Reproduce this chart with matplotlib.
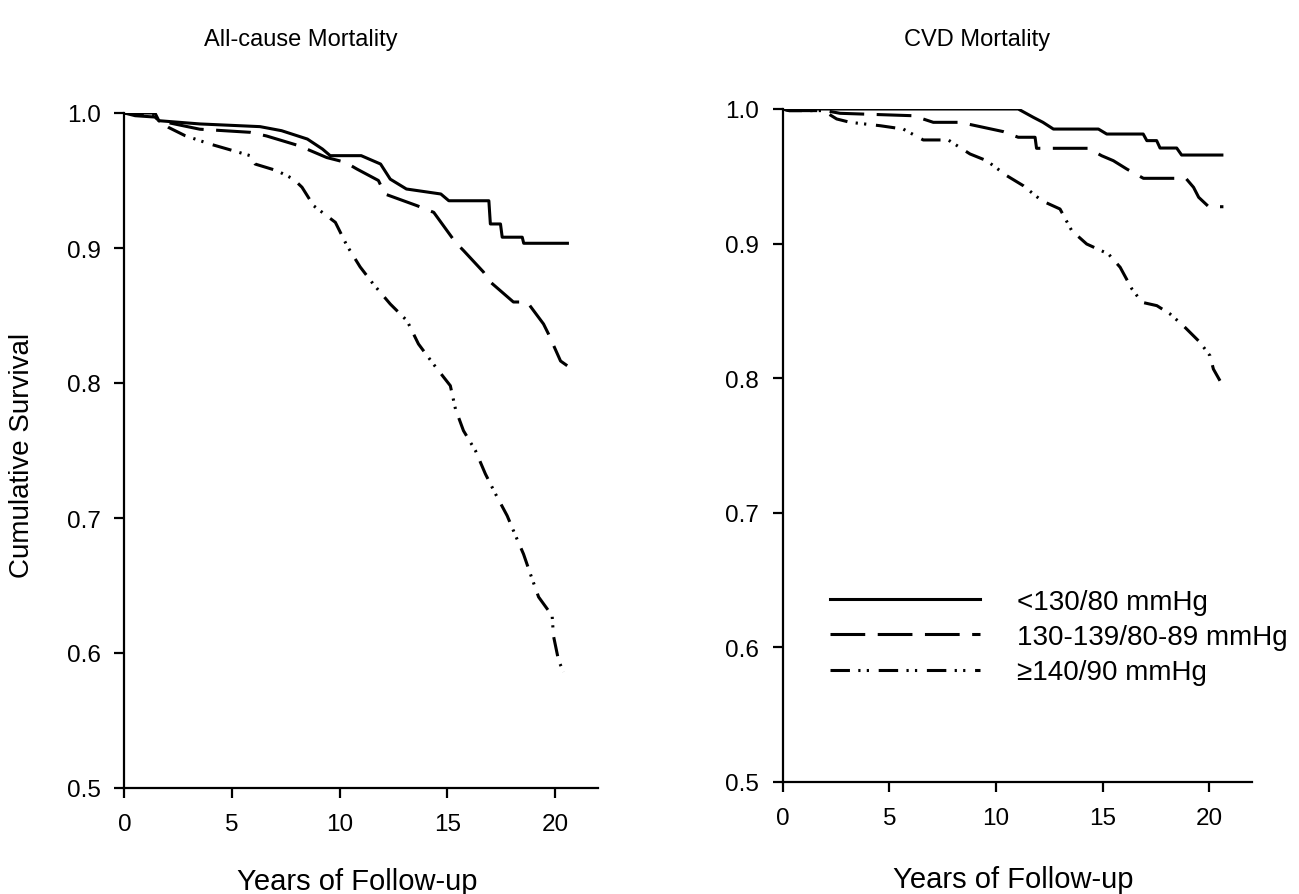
import matplotlib
matplotlib.use("Agg")
import matplotlib.pyplot as plt
from matplotlib.lines import Line2D

plt.rcParams['font.family'] = ['Liberation Sans', 'DejaVu Sans']
plt.rcParams['lines.scale_dashes'] = False

# ---- data (years, cumulative survival) ----
# All-cause mortality
all_t_low = [0, 1.42, 1.6, 3.5, 6.3, 7.3, 8.5, 9.2, 9.56, 11.0, 11.9, 12.35, 13.1, 14.7, 15.07,
             16.93, 17.0, 17.47, 17.55, 18.48, 18.55, 20.65]
all_s_low = [1.0, 1.0, 0.9943, 0.9919, 0.9899, 0.9869, 0.9807, 0.9733, 0.9684, 0.9684, 0.9622, 0.951,
             0.9437, 0.94, 0.935, 0.935, 0.9178, 0.9178, 0.908, 0.908, 0.9035, 0.9035]

all_t_mid = [0, 0.5, 1.42, 1.6, 3.5, 5.84, 6.6, 8.1, 9.4, 10.26, 10.8, 11.8, 12.1, 13.6, 14.37, 15.38,
             15.76, 16.68, 17.0, 18.07, 18.71, 19.47, 19.7, 20.26, 20.57]
all_s_mid = [1.0, 0.998, 0.997, 0.9943, 0.988, 0.9857, 0.983, 0.9758, 0.967, 0.9635, 0.9585, 0.95,
             0.94, 0.9313, 0.9264, 0.9042, 0.898, 0.8822, 0.8748, 0.86, 0.86, 0.8437, 0.8363,
             0.8163, 0.8128]

all_t_high = [0, 1.42, 1.6, 2.04, 2.82, 3.98, 5.07, 5.84, 6.07, 7.08, 7.86, 8.25, 8.79, 9.8, 10.34,
              10.95, 11.56, 12.35, 13.13, 13.66, 14.35, 15.14, 15.38, 15.75, 16.31, 16.77, 17.24,
              17.78, 18.17, 18.54, 18.86, 19.24, 19.87, 19.93, 20.17, 20.4]
all_s_high = [1.0, 0.998, 0.9943, 0.9894, 0.9832, 0.977, 0.972, 0.9684, 0.9622, 0.9573, 0.951, 0.945,
              0.9313, 0.919, 0.9017, 0.886, 0.8733, 0.8585, 0.8461, 0.8289, 0.8141, 0.798, 0.7807,
              0.7647, 0.7498, 0.7326, 0.7178, 0.7017, 0.6869, 0.6733, 0.6585, 0.6415, 0.6276,
              0.6128, 0.5943, 0.586]

# CVD mortality
cvd_t_low = [0, 11.04, 11.75, 12.2, 12.69, 14.8, 15.19, 16.9, 17.07, 17.53, 17.69, 18.47, 18.7, 20.66]
cvd_s_low = [1.0, 1.0, 0.9938, 0.9901, 0.9851, 0.9851, 0.9814, 0.9814, 0.9765, 0.9765, 0.971, 0.971,
             0.9658, 0.9658]

cvd_t_mid = [0, 0.3, 2.0, 2.69, 6.12, 7.06, 8.31, 9.4, 10.34, 11.04, 11.83, 11.9, 14.33, 14.95, 15.5,
             16.13, 16.91, 18.9, 19.26, 19.5, 19.97, 20.66]
cvd_s_mid = [1.0, 0.9988, 0.9988, 0.9968, 0.995, 0.9901, 0.9901, 0.9864, 0.9832, 0.979, 0.979, 0.9708,
             0.9708, 0.9653, 0.9616, 0.9554, 0.9485, 0.9485, 0.9418, 0.9344, 0.9274, 0.9274]

cvd_t_high = [0, 0.3, 1.9, 2.53, 3.16, 4.56, 5.65, 6.59, 7.76, 8.78, 9.56, 10.5, 11.28, 12.14, 13.0,
              13.55, 14.25, 15.27, 15.82, 16.37, 16.84, 17.54, 18.16, 18.78, 19.56, 20.03, 20.19, 20.5]
cvd_s_high = [1.0, 0.9988, 0.9988, 0.9926, 0.9901, 0.9876, 0.9851, 0.977, 0.977, 0.9666, 0.9616, 0.9505,
              0.943, 0.9319, 0.9257, 0.9096, 0.8997, 0.8923, 0.8824, 0.8663, 0.8564, 0.8539, 0.8477,
              0.839, 0.8267, 0.8167, 0.8068, 0.7981]

group_labels = ['<130/80 mmHg', '130-139/80-89 mmHg', '\u2265140/90 mmHg']
panel_titles = ['All-cause Mortality', 'CVD Mortality']
x_ticks = [0, 5, 10, 15, 20]
y_ticks = [0.5, 0.6, 0.7, 0.8, 0.9, 1.0]

styles = ['-', (0, (25, 9)), (0, (14, 6, 1.6, 4.5, 1.6, 7))]

W, H = 1299, 895
fig = plt.figure(figsize=(W / 100, H / 100), dpi=100)

# axes boxes in pixels: left, right, top, bottom
boxes = [(124.4, 598, 114, 789), (782.7, 1252, 110, 783)]
series = [
    [(all_t_low, all_s_low), (all_t_mid, all_s_mid), (all_t_high, all_s_high)],
    [(cvd_t_low, cvd_s_low), (cvd_t_mid, cvd_s_mid), (cvd_t_high, cvd_s_high)],
]

axes = []
for (l, r, t, b), curves in zip(boxes, series):
    ax = fig.add_axes([l / W, 1 - b / H, (r - l) / W, (b - t) / H])
    for (xs, ys), ls, lab in zip(curves, styles, group_labels):
        ax.plot(xs, ys, color='black', lw=2.2, linestyle=ls, label=lab,
                solid_capstyle='butt', dash_capstyle='butt')
    ax.set_xlim(0, 22)
    ax.set_ylim(0.5, 1.0)
    ax.set_xticks(x_ticks)
    ax.set_yticks(y_ticks)
    ax.set_yticklabels(['%.1f' % v for v in y_ticks])
    for s in ['top', 'right']:
        ax.spines[s].set_visible(False)
    for s in ['left', 'bottom']:
        ax.spines[s].set_linewidth(1.6)
    ax.tick_params(direction='out', length=7, width=1.6, labelsize=17.5)
    ax.tick_params(axis='y', pad=10)
    ax.tick_params(axis='x', pad=11)
    ax.set_facecolor('none')
    axes.append(ax)

# titles and axis labels
fig.text(301 / W, 1 - 40 / H, panel_titles[0], fontsize=17, ha='center', va='center')
fig.text(977 / W, 1 - 40 / H, panel_titles[1], fontsize=17, ha='center', va='center')
fig.text(357 / W, 1 - 890 / H, 'Years of Follow-up', fontsize=21, ha='center', va='baseline')
fig.text(1013 / W, 1 - 888 / H, 'Years of Follow-up', fontsize=21, ha='center', va='baseline')
fig.text(22 / W, 1 - 455 / H, 'Cumulative Survival', fontsize=20, ha='center', va='center',
         rotation=90)

handles = [Line2D([0], [0], color='black', lw=2.2, linestyle=ls) for ls in styles]
axes[1].legend(handles, group_labels, loc='upper left', frameon=False,
               bbox_to_anchor=(830 / W, 1 - 590 / H), bbox_transform=fig.transFigure,
               borderpad=0, borderaxespad=0, handlelength=5.4, handletextpad=1.33,
               labelspacing=0.33, fontsize=20)

fig.savefig('out.png', dpi=100)
